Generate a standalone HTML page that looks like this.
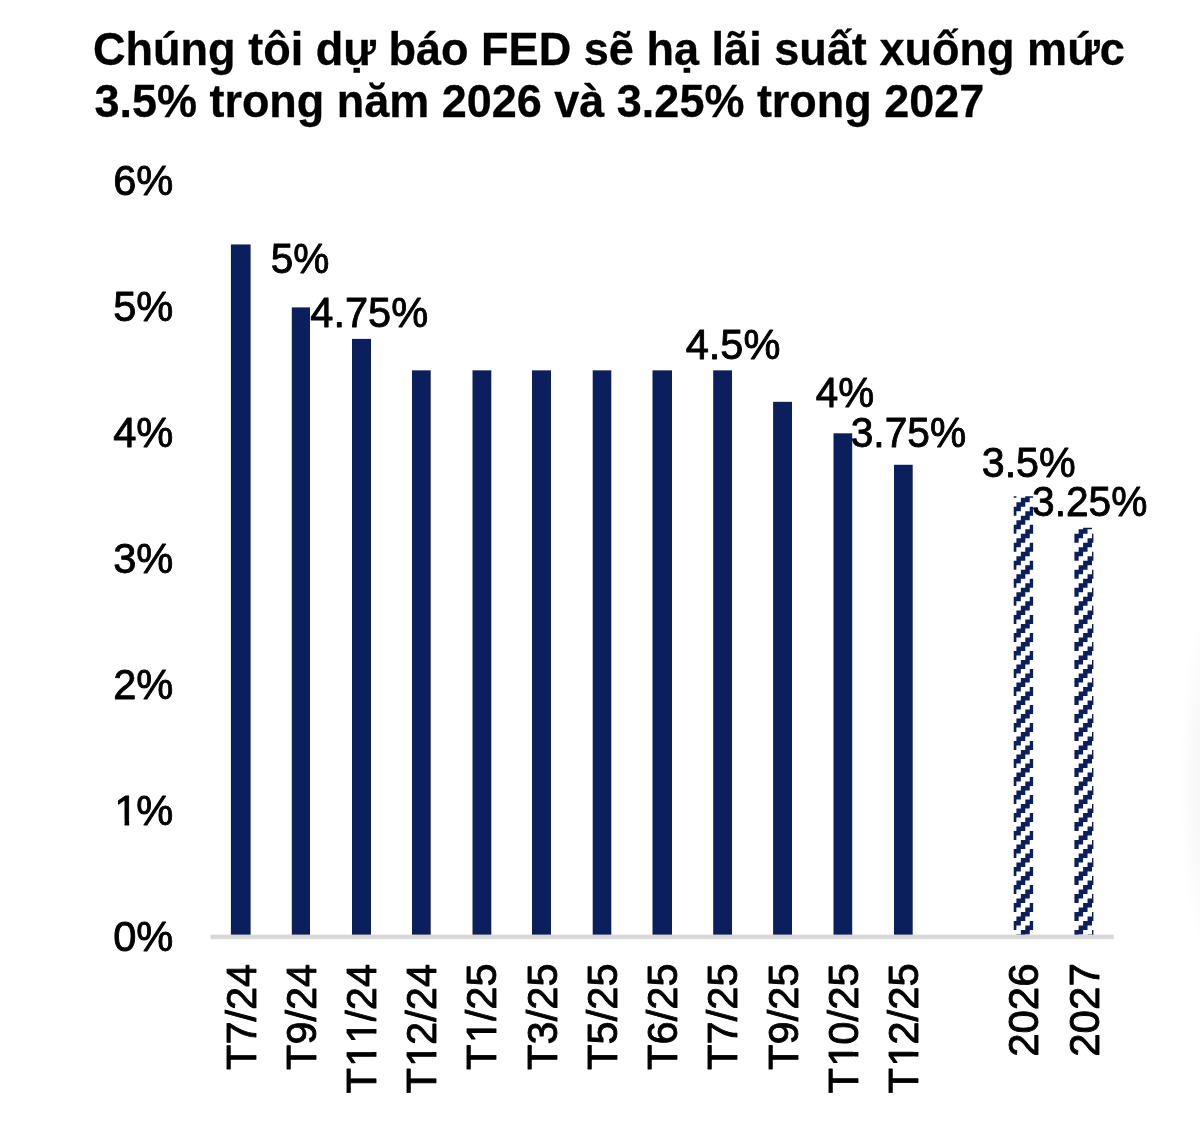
<!DOCTYPE html>
<html lang="vi"><head><meta charset="utf-8"><title>Dự báo lãi suất FED</title>
<style>
html,body{margin:0;padding:0;background:#fff}
body{width:1200px;height:1128px;overflow:hidden;position:relative;font-family:"Liberation Sans",sans-serif}
svg{position:absolute;left:0;top:0;display:block}
text{font-family:"Liberation Sans",sans-serif;fill:#000;stroke:#000;stroke-linejoin:round;font-kerning:none;font-feature-settings:"kern" 0,"liga" 0;white-space:pre}
.t{font-weight:bold;font-size:46.8px;stroke-width:0.3px}
.l{font-size:42.4px;stroke-width:0.9px}
.x{font-size:43.2px}
.y{font-size:42.4px}
</style></head><body>
<svg width="1200" height="1128" viewBox="0 0 1200 1128">
<defs>
<radialGradient id="sh" cx="0.5" cy="0.5" r="0.5">
<stop offset="0" stop-color="#000" stop-opacity="0.034"/><stop offset="0.6" stop-color="#000" stop-opacity="0.018"/><stop offset="1" stop-color="#000" stop-opacity="0"/>
</radialGradient>
</defs>
<rect id="bg" width="1200" height="1128" fill="#fff"/>
<ellipse cx="1204" cy="783" rx="24" ry="168" fill="url(#sh)"/>
<g id="bars">
<rect x="230.90" y="244.45" width="19.70" height="692.45" fill="#0A1F5C"/>
<rect x="291.80" y="307.40" width="18.20" height="629.50" fill="#0A1F5C"/>
<rect x="352.00" y="338.88" width="19.00" height="598.02" fill="#0A1F5C"/>
<rect x="412.00" y="370.35" width="18.70" height="566.55" fill="#0A1F5C"/>
<rect x="472.50" y="370.35" width="18.80" height="566.55" fill="#0A1F5C"/>
<rect x="532.00" y="370.35" width="19.00" height="566.55" fill="#0A1F5C"/>
<rect x="592.70" y="370.35" width="18.60" height="566.55" fill="#0A1F5C"/>
<rect x="652.50" y="370.35" width="19.50" height="566.55" fill="#0A1F5C"/>
<rect x="713.20" y="370.35" width="18.80" height="566.55" fill="#0A1F5C"/>
<rect x="773.10" y="401.82" width="18.90" height="535.08" fill="#0A1F5C"/>
<rect x="833.50" y="433.30" width="18.70" height="503.60" fill="#0A1F5C"/>
<rect x="894.00" y="464.77" width="18.70" height="472.12" fill="#0A1F5C"/>
<clipPath id="c13"><rect x="1013.73" y="496.25" width="19.40" height="440.65"/></clipPath>
<path clip-path="url(#c13)" fill="#0A1F5C" d="M1011.95 470.78 L1016.40 470.78 L1016.40 466.28 L1020.85 466.28 L1020.85 461.78 L1025.29 461.78 L1025.29 457.27 L1029.74 457.27 L1029.74 452.77 L1034.19 452.77 L1034.19 461.78 L1029.74 461.78 L1029.74 466.28 L1025.29 466.28 L1025.29 470.78 L1020.85 470.78 L1020.85 475.28 L1016.40 475.28 L1016.40 479.79 L1011.95 479.79Z M1011.95 488.79 L1016.40 488.79 L1016.40 484.29 L1020.85 484.29 L1020.85 479.79 L1025.29 479.79 L1025.29 475.29 L1029.74 475.29 L1029.74 470.78 L1034.19 470.78 L1034.19 479.79 L1029.74 479.79 L1029.74 484.29 L1025.29 484.29 L1025.29 488.79 L1020.85 488.79 L1020.85 493.30 L1016.40 493.30 L1016.40 497.80 L1011.95 497.80Z M1011.95 506.81 L1016.40 506.81 L1016.40 502.30 L1020.85 502.30 L1020.85 497.80 L1025.29 497.80 L1025.29 493.30 L1029.74 493.30 L1029.74 488.79 L1034.19 488.79 L1034.19 497.80 L1029.74 497.80 L1029.74 502.30 L1025.29 502.30 L1025.29 506.81 L1020.85 506.81 L1020.85 511.31 L1016.40 511.31 L1016.40 515.81 L1011.95 515.81Z M1011.95 524.82 L1016.40 524.82 L1016.40 520.32 L1020.85 520.32 L1020.85 515.81 L1025.29 515.81 L1025.29 511.31 L1029.74 511.31 L1029.74 506.81 L1034.19 506.81 L1034.19 515.81 L1029.74 515.81 L1029.74 520.32 L1025.29 520.32 L1025.29 524.82 L1020.85 524.82 L1020.85 529.32 L1016.40 529.32 L1016.40 533.82 L1011.95 533.82Z M1011.95 542.83 L1016.40 542.83 L1016.40 538.33 L1020.85 538.33 L1020.85 533.82 L1025.29 533.82 L1025.29 529.32 L1029.74 529.32 L1029.74 524.82 L1034.19 524.82 L1034.19 533.82 L1029.74 533.82 L1029.74 538.33 L1025.29 538.33 L1025.29 542.83 L1020.85 542.83 L1020.85 547.33 L1016.40 547.33 L1016.40 551.84 L1011.95 551.84Z M1011.95 560.84 L1016.40 560.84 L1016.40 556.34 L1020.85 556.34 L1020.85 551.84 L1025.29 551.84 L1025.29 547.33 L1029.74 547.33 L1029.74 542.83 L1034.19 542.83 L1034.19 551.84 L1029.74 551.84 L1029.74 556.34 L1025.29 556.34 L1025.29 560.84 L1020.85 560.84 L1020.85 565.35 L1016.40 565.35 L1016.40 569.85 L1011.95 569.85Z M1011.95 578.85 L1016.40 578.85 L1016.40 574.35 L1020.85 574.35 L1020.85 569.85 L1025.29 569.85 L1025.29 565.35 L1029.74 565.35 L1029.74 560.84 L1034.19 560.84 L1034.19 569.85 L1029.74 569.85 L1029.74 574.35 L1025.29 574.35 L1025.29 578.85 L1020.85 578.85 L1020.85 583.36 L1016.40 583.36 L1016.40 587.86 L1011.95 587.86Z M1011.95 596.87 L1016.40 596.87 L1016.40 592.36 L1020.85 592.36 L1020.85 587.86 L1025.29 587.86 L1025.29 583.36 L1029.74 583.36 L1029.74 578.85 L1034.19 578.85 L1034.19 587.86 L1029.74 587.86 L1029.74 592.36 L1025.29 592.36 L1025.29 596.87 L1020.85 596.87 L1020.85 601.37 L1016.40 601.37 L1016.40 605.87 L1011.95 605.87Z M1011.95 614.88 L1016.40 614.88 L1016.40 610.38 L1020.85 610.38 L1020.85 605.87 L1025.29 605.87 L1025.29 601.37 L1029.74 601.37 L1029.74 596.87 L1034.19 596.87 L1034.19 605.87 L1029.74 605.87 L1029.74 610.38 L1025.29 610.38 L1025.29 614.88 L1020.85 614.88 L1020.85 619.38 L1016.40 619.38 L1016.40 623.88 L1011.95 623.88Z M1011.95 632.89 L1016.40 632.89 L1016.40 628.39 L1020.85 628.39 L1020.85 623.88 L1025.29 623.88 L1025.29 619.38 L1029.74 619.38 L1029.74 614.88 L1034.19 614.88 L1034.19 623.88 L1029.74 623.88 L1029.74 628.39 L1025.29 628.39 L1025.29 632.89 L1020.85 632.89 L1020.85 637.39 L1016.40 637.39 L1016.40 641.90 L1011.95 641.90Z M1011.95 650.90 L1016.40 650.90 L1016.40 646.40 L1020.85 646.40 L1020.85 641.90 L1025.29 641.90 L1025.29 637.39 L1029.74 637.39 L1029.74 632.89 L1034.19 632.89 L1034.19 641.90 L1029.74 641.90 L1029.74 646.40 L1025.29 646.40 L1025.29 650.90 L1020.85 650.90 L1020.85 655.40 L1016.40 655.40 L1016.40 659.91 L1011.95 659.91Z M1011.95 668.91 L1016.40 668.91 L1016.40 664.41 L1020.85 664.41 L1020.85 659.91 L1025.29 659.91 L1025.29 655.40 L1029.74 655.40 L1029.74 650.90 L1034.19 650.90 L1034.19 659.91 L1029.74 659.91 L1029.74 664.41 L1025.29 664.41 L1025.29 668.91 L1020.85 668.91 L1020.85 673.42 L1016.40 673.42 L1016.40 677.92 L1011.95 677.92Z M1011.95 686.93 L1016.40 686.93 L1016.40 682.42 L1020.85 682.42 L1020.85 677.92 L1025.29 677.92 L1025.29 673.42 L1029.74 673.42 L1029.74 668.91 L1034.19 668.91 L1034.19 677.92 L1029.74 677.92 L1029.74 682.42 L1025.29 682.42 L1025.29 686.93 L1020.85 686.93 L1020.85 691.43 L1016.40 691.43 L1016.40 695.93 L1011.95 695.93Z M1011.95 704.94 L1016.40 704.94 L1016.40 700.43 L1020.85 700.43 L1020.85 695.93 L1025.29 695.93 L1025.29 691.43 L1029.74 691.43 L1029.74 686.93 L1034.19 686.93 L1034.19 695.93 L1029.74 695.93 L1029.74 700.44 L1025.29 700.44 L1025.29 704.94 L1020.85 704.94 L1020.85 709.44 L1016.40 709.44 L1016.40 713.94 L1011.95 713.94Z M1011.95 722.95 L1016.40 722.95 L1016.40 718.45 L1020.85 718.45 L1020.85 713.94 L1025.29 713.94 L1025.29 709.44 L1029.74 709.44 L1029.74 704.94 L1034.19 704.94 L1034.19 713.94 L1029.74 713.94 L1029.74 718.45 L1025.29 718.45 L1025.29 722.95 L1020.85 722.95 L1020.85 727.45 L1016.40 727.45 L1016.40 731.96 L1011.95 731.96Z M1011.95 740.96 L1016.40 740.96 L1016.40 736.46 L1020.85 736.46 L1020.85 731.96 L1025.29 731.96 L1025.29 727.45 L1029.74 727.45 L1029.74 722.95 L1034.19 722.95 L1034.19 731.96 L1029.74 731.96 L1029.74 736.46 L1025.29 736.46 L1025.29 740.96 L1020.85 740.96 L1020.85 745.47 L1016.40 745.47 L1016.40 749.97 L1011.95 749.97Z M1011.95 758.97 L1016.40 758.97 L1016.40 754.47 L1020.85 754.47 L1020.85 749.97 L1025.29 749.97 L1025.29 745.47 L1029.74 745.47 L1029.74 740.96 L1034.19 740.96 L1034.19 749.97 L1029.74 749.97 L1029.74 754.47 L1025.29 754.47 L1025.29 758.97 L1020.85 758.97 L1020.85 763.48 L1016.40 763.48 L1016.40 767.98 L1011.95 767.98Z M1011.95 776.99 L1016.40 776.99 L1016.40 772.48 L1020.85 772.48 L1020.85 767.98 L1025.29 767.98 L1025.29 763.48 L1029.74 763.48 L1029.74 758.97 L1034.19 758.97 L1034.19 767.98 L1029.74 767.98 L1029.74 772.48 L1025.29 772.48 L1025.29 776.99 L1020.85 776.99 L1020.85 781.49 L1016.40 781.49 L1016.40 785.99 L1011.95 785.99Z M1011.95 795.00 L1016.40 795.00 L1016.40 790.50 L1020.85 790.50 L1020.85 785.99 L1025.29 785.99 L1025.29 781.49 L1029.74 781.49 L1029.74 776.99 L1034.19 776.99 L1034.19 785.99 L1029.74 785.99 L1029.74 790.50 L1025.29 790.50 L1025.29 795.00 L1020.85 795.00 L1020.85 799.50 L1016.40 799.50 L1016.40 804.00 L1011.95 804.00Z M1011.95 813.01 L1016.40 813.01 L1016.40 808.51 L1020.85 808.51 L1020.85 804.00 L1025.29 804.00 L1025.29 799.50 L1029.74 799.50 L1029.74 795.00 L1034.19 795.00 L1034.19 804.00 L1029.74 804.00 L1029.74 808.51 L1025.29 808.51 L1025.29 813.01 L1020.85 813.01 L1020.85 817.51 L1016.40 817.51 L1016.40 822.02 L1011.95 822.02Z M1011.95 831.02 L1016.40 831.02 L1016.40 826.52 L1020.85 826.52 L1020.85 822.02 L1025.29 822.02 L1025.29 817.51 L1029.74 817.51 L1029.74 813.01 L1034.19 813.01 L1034.19 822.02 L1029.74 822.02 L1029.74 826.52 L1025.29 826.52 L1025.29 831.02 L1020.85 831.02 L1020.85 835.52 L1016.40 835.52 L1016.40 840.03 L1011.95 840.03Z M1011.95 849.03 L1016.40 849.03 L1016.40 844.53 L1020.85 844.53 L1020.85 840.03 L1025.29 840.03 L1025.29 835.53 L1029.74 835.53 L1029.74 831.02 L1034.19 831.02 L1034.19 840.03 L1029.74 840.03 L1029.74 844.53 L1025.29 844.53 L1025.29 849.03 L1020.85 849.03 L1020.85 853.54 L1016.40 853.54 L1016.40 858.04 L1011.95 858.04Z M1011.95 867.05 L1016.40 867.05 L1016.40 862.54 L1020.85 862.54 L1020.85 858.04 L1025.29 858.04 L1025.29 853.54 L1029.74 853.54 L1029.74 849.03 L1034.19 849.03 L1034.19 858.04 L1029.74 858.04 L1029.74 862.54 L1025.29 862.54 L1025.29 867.05 L1020.85 867.05 L1020.85 871.55 L1016.40 871.55 L1016.40 876.05 L1011.95 876.05Z M1011.95 885.06 L1016.40 885.06 L1016.40 880.56 L1020.85 880.56 L1020.85 876.05 L1025.29 876.05 L1025.29 871.55 L1029.74 871.55 L1029.74 867.05 L1034.19 867.05 L1034.19 876.05 L1029.74 876.05 L1029.74 880.55 L1025.29 880.55 L1025.29 885.06 L1020.85 885.06 L1020.85 889.56 L1016.40 889.56 L1016.40 894.06 L1011.95 894.06Z M1011.95 903.07 L1016.40 903.07 L1016.40 898.57 L1020.85 898.57 L1020.85 894.06 L1025.29 894.06 L1025.29 889.56 L1029.74 889.56 L1029.74 885.06 L1034.19 885.06 L1034.19 894.06 L1029.74 894.06 L1029.74 898.57 L1025.29 898.57 L1025.29 903.07 L1020.85 903.07 L1020.85 907.57 L1016.40 907.57 L1016.40 912.08 L1011.95 912.08Z M1011.95 921.08 L1016.40 921.08 L1016.40 916.58 L1020.85 916.58 L1020.85 912.08 L1025.29 912.08 L1025.29 907.57 L1029.74 907.57 L1029.74 903.07 L1034.19 903.07 L1034.19 912.08 L1029.74 912.08 L1029.74 916.58 L1025.29 916.58 L1025.29 921.08 L1020.85 921.08 L1020.85 925.58 L1016.40 925.58 L1016.40 930.09 L1011.95 930.09Z M1011.95 939.09 L1016.40 939.09 L1016.40 934.59 L1020.85 934.59 L1020.85 930.09 L1025.29 930.09 L1025.29 925.59 L1029.74 925.59 L1029.74 921.08 L1034.19 921.08 L1034.19 930.09 L1029.74 930.09 L1029.74 934.59 L1025.29 934.59 L1025.29 939.09 L1020.85 939.09 L1020.85 943.60 L1016.40 943.60 L1016.40 948.10 L1011.95 948.10Z M1011.95 957.11 L1016.40 957.11 L1016.40 952.60 L1020.85 952.60 L1020.85 948.10 L1025.29 948.10 L1025.29 943.60 L1029.74 943.60 L1029.74 939.09 L1034.19 939.09 L1034.19 948.10 L1029.74 948.10 L1029.74 952.60 L1025.29 952.60 L1025.29 957.11 L1020.85 957.11 L1020.85 961.61 L1016.40 961.61 L1016.40 966.11 L1011.95 966.11Z M1011.95 975.12 L1016.40 975.12 L1016.40 970.62 L1020.85 970.62 L1020.85 966.11 L1025.29 966.11 L1025.29 961.61 L1029.74 961.61 L1029.74 957.11 L1034.19 957.11 L1034.19 966.11 L1029.74 966.11 L1029.74 970.62 L1025.29 970.62 L1025.29 975.12 L1020.85 975.12 L1020.85 979.62 L1016.40 979.62 L1016.40 984.12 L1011.95 984.12Z M1011.95 993.13 L1016.40 993.13 L1016.40 988.63 L1020.85 988.63 L1020.85 984.12 L1025.29 984.12 L1025.29 979.62 L1029.74 979.62 L1029.74 975.12 L1034.19 975.12 L1034.19 984.12 L1029.74 984.12 L1029.74 988.63 L1025.29 988.63 L1025.29 993.13 L1020.85 993.13 L1020.85 997.63 L1016.40 997.63 L1016.40 1002.14 L1011.95 1002.14Z"/>
<clipPath id="c14"><rect x="1074.25" y="527.72" width="19.15" height="409.18"/></clipPath>
<path clip-path="url(#c14)" fill="#0A1F5C" d="M1074.21 497.80 L1078.66 497.80 L1078.66 493.30 L1083.10 493.30 L1083.11 488.79 L1087.55 488.79 L1087.55 484.29 L1092.00 484.29 L1092.00 479.79 L1096.45 479.79 L1096.45 488.79 L1092.00 488.79 L1092.00 493.30 L1087.55 493.30 L1087.55 497.80 L1083.11 497.80 L1083.10 502.30 L1078.66 502.30 L1078.66 506.81 L1074.21 506.81Z M1074.21 515.81 L1078.66 515.81 L1078.66 511.31 L1083.10 511.31 L1083.11 506.81 L1087.55 506.81 L1087.55 502.30 L1092.00 502.30 L1092.00 497.80 L1096.45 497.80 L1096.45 506.81 L1092.00 506.81 L1092.00 511.31 L1087.55 511.31 L1087.55 515.81 L1083.11 515.81 L1083.10 520.32 L1078.66 520.32 L1078.66 524.82 L1074.21 524.82Z M1074.21 533.82 L1078.66 533.82 L1078.66 529.32 L1083.10 529.32 L1083.11 524.82 L1087.55 524.82 L1087.55 520.32 L1092.00 520.32 L1092.00 515.81 L1096.45 515.81 L1096.45 524.82 L1092.00 524.82 L1092.00 529.32 L1087.55 529.32 L1087.55 533.82 L1083.11 533.82 L1083.10 538.33 L1078.66 538.33 L1078.66 542.83 L1074.21 542.83Z M1074.21 551.84 L1078.66 551.84 L1078.66 547.33 L1083.10 547.33 L1083.11 542.83 L1087.55 542.83 L1087.55 538.33 L1092.00 538.33 L1092.00 533.82 L1096.45 533.82 L1096.45 542.83 L1092.00 542.83 L1092.00 547.33 L1087.55 547.33 L1087.55 551.84 L1083.11 551.84 L1083.10 556.34 L1078.66 556.34 L1078.66 560.84 L1074.21 560.84Z M1074.21 569.85 L1078.66 569.85 L1078.66 565.35 L1083.10 565.35 L1083.11 560.84 L1087.55 560.84 L1087.55 556.34 L1092.00 556.34 L1092.00 551.84 L1096.45 551.84 L1096.45 560.84 L1092.00 560.84 L1092.00 565.35 L1087.55 565.35 L1087.55 569.85 L1083.11 569.85 L1083.10 574.35 L1078.66 574.35 L1078.66 578.85 L1074.21 578.85Z M1074.21 587.86 L1078.66 587.86 L1078.66 583.36 L1083.10 583.36 L1083.11 578.85 L1087.55 578.85 L1087.55 574.35 L1092.00 574.35 L1092.00 569.85 L1096.45 569.85 L1096.45 578.85 L1092.00 578.85 L1092.00 583.36 L1087.55 583.36 L1087.55 587.86 L1083.11 587.86 L1083.10 592.36 L1078.66 592.36 L1078.66 596.87 L1074.21 596.87Z M1074.21 605.87 L1078.66 605.87 L1078.66 601.37 L1083.10 601.37 L1083.11 596.87 L1087.55 596.87 L1087.55 592.36 L1092.00 592.36 L1092.00 587.86 L1096.45 587.86 L1096.45 596.87 L1092.00 596.87 L1092.00 601.37 L1087.55 601.37 L1087.55 605.87 L1083.11 605.87 L1083.10 610.38 L1078.66 610.38 L1078.66 614.88 L1074.21 614.88Z M1074.21 623.88 L1078.66 623.88 L1078.66 619.38 L1083.10 619.38 L1083.11 614.88 L1087.55 614.88 L1087.55 610.38 L1092.00 610.38 L1092.00 605.87 L1096.45 605.87 L1096.45 614.88 L1092.00 614.88 L1092.00 619.38 L1087.55 619.38 L1087.55 623.88 L1083.11 623.88 L1083.10 628.39 L1078.66 628.39 L1078.66 632.89 L1074.21 632.89Z M1074.21 641.90 L1078.66 641.90 L1078.66 637.39 L1083.10 637.39 L1083.11 632.89 L1087.55 632.89 L1087.55 628.39 L1092.00 628.39 L1092.00 623.88 L1096.45 623.88 L1096.45 632.89 L1092.00 632.89 L1092.00 637.39 L1087.55 637.39 L1087.55 641.90 L1083.11 641.90 L1083.10 646.40 L1078.66 646.40 L1078.66 650.90 L1074.21 650.90Z M1074.21 659.91 L1078.66 659.91 L1078.66 655.40 L1083.10 655.40 L1083.11 650.90 L1087.55 650.90 L1087.55 646.40 L1092.00 646.40 L1092.00 641.90 L1096.45 641.90 L1096.45 650.90 L1092.00 650.90 L1092.00 655.40 L1087.55 655.40 L1087.55 659.91 L1083.11 659.91 L1083.10 664.41 L1078.66 664.41 L1078.66 668.91 L1074.21 668.91Z M1074.21 677.92 L1078.66 677.92 L1078.66 673.42 L1083.10 673.42 L1083.11 668.91 L1087.55 668.91 L1087.55 664.41 L1092.00 664.41 L1092.00 659.91 L1096.45 659.91 L1096.45 668.91 L1092.00 668.91 L1092.00 673.42 L1087.55 673.42 L1087.55 677.92 L1083.11 677.92 L1083.10 682.42 L1078.66 682.42 L1078.66 686.93 L1074.21 686.93Z M1074.21 695.93 L1078.66 695.93 L1078.66 691.43 L1083.10 691.43 L1083.11 686.93 L1087.55 686.93 L1087.55 682.42 L1092.00 682.42 L1092.00 677.92 L1096.45 677.92 L1096.45 686.93 L1092.00 686.93 L1092.00 691.43 L1087.55 691.43 L1087.55 695.93 L1083.11 695.93 L1083.10 700.44 L1078.66 700.44 L1078.66 704.94 L1074.21 704.94Z M1074.21 713.94 L1078.66 713.94 L1078.66 709.44 L1083.10 709.44 L1083.11 704.94 L1087.55 704.94 L1087.55 700.43 L1092.00 700.43 L1092.00 695.93 L1096.45 695.93 L1096.45 704.94 L1092.00 704.94 L1092.00 709.44 L1087.55 709.44 L1087.55 713.94 L1083.11 713.94 L1083.10 718.45 L1078.66 718.45 L1078.66 722.95 L1074.21 722.95Z M1074.21 731.96 L1078.66 731.96 L1078.66 727.45 L1083.10 727.45 L1083.11 722.95 L1087.55 722.95 L1087.55 718.45 L1092.00 718.45 L1092.00 713.94 L1096.45 713.94 L1096.45 722.95 L1092.00 722.95 L1092.00 727.45 L1087.55 727.45 L1087.55 731.96 L1083.11 731.96 L1083.10 736.46 L1078.66 736.46 L1078.66 740.96 L1074.21 740.96Z M1074.21 749.97 L1078.66 749.97 L1078.66 745.47 L1083.10 745.47 L1083.11 740.96 L1087.55 740.96 L1087.55 736.46 L1092.00 736.46 L1092.00 731.96 L1096.45 731.96 L1096.45 740.96 L1092.00 740.96 L1092.00 745.47 L1087.55 745.47 L1087.55 749.97 L1083.11 749.97 L1083.10 754.47 L1078.66 754.47 L1078.66 758.97 L1074.21 758.97Z M1074.21 767.98 L1078.66 767.98 L1078.66 763.48 L1083.10 763.48 L1083.11 758.97 L1087.55 758.97 L1087.55 754.47 L1092.00 754.47 L1092.00 749.97 L1096.45 749.97 L1096.45 758.97 L1092.00 758.97 L1092.00 763.48 L1087.55 763.48 L1087.55 767.98 L1083.11 767.98 L1083.10 772.48 L1078.66 772.48 L1078.66 776.99 L1074.21 776.99Z M1074.21 785.99 L1078.66 785.99 L1078.66 781.49 L1083.10 781.49 L1083.11 776.99 L1087.55 776.99 L1087.55 772.48 L1092.00 772.48 L1092.00 767.98 L1096.45 767.98 L1096.45 776.99 L1092.00 776.99 L1092.00 781.49 L1087.55 781.49 L1087.55 785.99 L1083.11 785.99 L1083.10 790.50 L1078.66 790.50 L1078.66 795.00 L1074.21 795.00Z M1074.21 804.00 L1078.66 804.00 L1078.66 799.50 L1083.10 799.50 L1083.11 795.00 L1087.55 795.00 L1087.55 790.50 L1092.00 790.50 L1092.00 785.99 L1096.45 785.99 L1096.45 795.00 L1092.00 795.00 L1092.00 799.50 L1087.55 799.50 L1087.55 804.00 L1083.11 804.00 L1083.10 808.51 L1078.66 808.51 L1078.66 813.01 L1074.21 813.01Z M1074.21 822.02 L1078.66 822.02 L1078.66 817.51 L1083.10 817.51 L1083.11 813.01 L1087.55 813.01 L1087.55 808.51 L1092.00 808.51 L1092.00 804.00 L1096.45 804.00 L1096.45 813.01 L1092.00 813.01 L1092.00 817.51 L1087.55 817.51 L1087.55 822.02 L1083.11 822.02 L1083.10 826.52 L1078.66 826.52 L1078.66 831.02 L1074.21 831.02Z M1074.21 840.03 L1078.66 840.03 L1078.66 835.53 L1083.10 835.53 L1083.11 831.02 L1087.55 831.02 L1087.55 826.52 L1092.00 826.52 L1092.00 822.02 L1096.45 822.02 L1096.45 831.02 L1092.00 831.02 L1092.00 835.52 L1087.55 835.52 L1087.55 840.03 L1083.11 840.03 L1083.10 844.53 L1078.66 844.53 L1078.66 849.03 L1074.21 849.03Z M1074.21 858.04 L1078.66 858.04 L1078.66 853.54 L1083.10 853.54 L1083.11 849.03 L1087.55 849.03 L1087.55 844.53 L1092.00 844.53 L1092.00 840.03 L1096.45 840.03 L1096.45 849.03 L1092.00 849.03 L1092.00 853.54 L1087.55 853.54 L1087.55 858.04 L1083.11 858.04 L1083.10 862.54 L1078.66 862.54 L1078.66 867.05 L1074.21 867.05Z M1074.21 876.05 L1078.66 876.05 L1078.66 871.55 L1083.10 871.55 L1083.11 867.05 L1087.55 867.05 L1087.55 862.54 L1092.00 862.54 L1092.00 858.04 L1096.45 858.04 L1096.45 867.05 L1092.00 867.05 L1092.00 871.55 L1087.55 871.55 L1087.55 876.05 L1083.11 876.05 L1083.10 880.55 L1078.66 880.55 L1078.66 885.06 L1074.21 885.06Z M1074.21 894.06 L1078.66 894.06 L1078.66 889.56 L1083.10 889.56 L1083.11 885.06 L1087.55 885.06 L1087.55 880.56 L1092.00 880.56 L1092.00 876.05 L1096.45 876.05 L1096.45 885.06 L1092.00 885.06 L1092.00 889.56 L1087.55 889.56 L1087.55 894.06 L1083.11 894.06 L1083.10 898.57 L1078.66 898.57 L1078.66 903.07 L1074.21 903.07Z M1074.21 912.08 L1078.66 912.08 L1078.66 907.57 L1083.10 907.57 L1083.11 903.07 L1087.55 903.07 L1087.55 898.57 L1092.00 898.57 L1092.00 894.06 L1096.45 894.06 L1096.45 903.07 L1092.00 903.07 L1092.00 907.57 L1087.55 907.57 L1087.55 912.08 L1083.11 912.08 L1083.10 916.58 L1078.66 916.58 L1078.66 921.08 L1074.21 921.08Z M1074.21 930.09 L1078.66 930.09 L1078.66 925.59 L1083.10 925.59 L1083.11 921.08 L1087.55 921.08 L1087.55 916.58 L1092.00 916.58 L1092.00 912.08 L1096.45 912.08 L1096.45 921.08 L1092.00 921.08 L1092.00 925.58 L1087.55 925.58 L1087.55 930.09 L1083.11 930.09 L1083.10 934.59 L1078.66 934.59 L1078.66 939.09 L1074.21 939.09Z M1074.21 948.10 L1078.66 948.10 L1078.66 943.60 L1083.10 943.60 L1083.11 939.09 L1087.55 939.09 L1087.55 934.59 L1092.00 934.59 L1092.00 930.09 L1096.45 930.09 L1096.45 939.09 L1092.00 939.09 L1092.00 943.60 L1087.55 943.60 L1087.55 948.10 L1083.11 948.10 L1083.10 952.60 L1078.66 952.60 L1078.66 957.11 L1074.21 957.11Z M1074.21 966.11 L1078.66 966.11 L1078.66 961.61 L1083.10 961.61 L1083.11 957.11 L1087.55 957.11 L1087.55 952.60 L1092.00 952.60 L1092.00 948.10 L1096.45 948.10 L1096.45 957.11 L1092.00 957.11 L1092.00 961.61 L1087.55 961.61 L1087.55 966.11 L1083.11 966.11 L1083.10 970.62 L1078.66 970.62 L1078.66 975.12 L1074.21 975.12Z M1074.21 984.12 L1078.66 984.12 L1078.66 979.62 L1083.10 979.62 L1083.11 975.12 L1087.55 975.12 L1087.55 970.62 L1092.00 970.62 L1092.00 966.11 L1096.45 966.11 L1096.45 975.12 L1092.00 975.12 L1092.00 979.62 L1087.55 979.62 L1087.55 984.12 L1083.11 984.12 L1083.10 988.63 L1078.66 988.63 L1078.66 993.13 L1074.21 993.13Z"/>
</g>
<rect id="axis" x="210.5" y="934.6" width="903.25" height="4.6" fill="#d9d9d9"/>
<g id="labels">
<text id="t1" class="t" transform="translate(92.95 65.10) scale(0.9634 1)">Chúng tôi dự báo FED sẽ hạ lãi suất xuống mức</text>
<text id="t2" class="t" transform="translate(94.40 117.30) scale(0.9613 1)">3.5% trong năm 2026 và 3.25% trong 2027</text>
<text id="y0" class="l y" x="0.00 23.57" y="0" transform="translate(113.20 950.70) scale(0.9820 1)">0%</text>
<clipPath id="ky1"><path clip-rule="evenodd" d="M-50 -80H400V40H-50Z M3.50 -4.45 H11.61 V1.70 H3.50 Z M16.24 -4.45 H24.06 V1.70 H16.24 Z"/></clipPath><text id="y1" class="l y" x="1.38 23.57" y="0" clip-path="url(#ky1)" transform="translate(113.20 824.80) scale(0.9820 1)">1%</text>
<text id="y2" class="l y" x="0.00 23.57" y="0" transform="translate(113.20 698.90) scale(0.9820 1)">2%</text>
<text id="y3" class="l y" x="0.00 23.57" y="0" transform="translate(113.20 573.00) scale(0.9820 1)">3%</text>
<text id="y4" class="l y" x="0.00 23.57" y="0" transform="translate(113.20 447.10) scale(0.9820 1)">4%</text>
<text id="y5" class="l y" x="0.00 23.57" y="0" transform="translate(113.20 321.20) scale(0.9820 1)">5%</text>
<text id="y6" class="l y" x="0.00 23.57" y="0" transform="translate(113.20 195.30) scale(0.9820 1)">6%</text>
<text id="x0" class="l x" x="0.00 26.40 50.41 62.42 86.44" y="0" transform="translate(255.61 1069.90) rotate(-90) scale(0.9593 1)">T7/24</text>
<text id="x1" class="l x" x="0.00 26.40 50.41 62.42 86.44" y="0" transform="translate(315.82 1069.90) rotate(-90) scale(0.9593 1)">T9/24</text>
<clipPath id="kx2"><path clip-rule="evenodd" d="M-50 -80H400V40H-50Z M29.96 -4.54 H38.24 V1.73 H29.96 Z M42.94 -4.54 H50.91 V1.73 H42.94 Z M53.98 -4.54 H62.25 V1.73 H53.98 Z M66.96 -4.54 H74.93 V1.73 H66.96 Z"/></clipPath><text id="x2" class="l x" x="0.00 27.80 51.82 74.43 86.44 110.46" y="0" clip-path="url(#kx2)" transform="translate(376.04 1093.51) rotate(-90) scale(0.9640 1)">T11/24</text>
<clipPath id="kx3"><path clip-rule="evenodd" d="M-50 -80H400V40H-50Z M29.96 -4.54 H38.24 V1.73 H29.96 Z M42.94 -4.54 H50.91 V1.73 H42.94 Z"/></clipPath><text id="x3" class="l x" x="0.00 27.80 50.41 74.43 86.44 110.46" y="0" clip-path="url(#kx3)" transform="translate(436.26 1093.51) rotate(-90) scale(0.9640 1)">T12/24</text>
<clipPath id="kx4"><path clip-rule="evenodd" d="M-50 -80H400V40H-50Z M29.96 -4.54 H38.24 V1.73 H29.96 Z M42.94 -4.54 H50.91 V1.73 H42.94 Z"/></clipPath><text id="x4" class="l x" x="0.00 27.80 50.41 62.42 86.44" y="0" clip-path="url(#kx4)" transform="translate(496.48 1069.91) rotate(-90) scale(0.9640 1)">T1/25</text>
<text id="x5" class="l x" x="0.00 26.40 50.41 62.42 86.44" y="0" transform="translate(556.69 1069.91) rotate(-90) scale(0.9640 1)">T3/25</text>
<text id="x6" class="l x" x="0.00 26.40 50.41 62.42 86.44" y="0" transform="translate(616.91 1069.91) rotate(-90) scale(0.9640 1)">T5/25</text>
<text id="x7" class="l x" x="0.00 26.40 50.41 62.42 86.44" y="0" transform="translate(677.12 1069.91) rotate(-90) scale(0.9640 1)">T6/25</text>
<text id="x8" class="l x" x="0.00 26.40 50.41 62.42 86.44" y="0" transform="translate(737.34 1069.91) rotate(-90) scale(0.9640 1)">T7/25</text>
<text id="x9" class="l x" x="0.00 26.40 50.41 62.42 86.44" y="0" transform="translate(797.56 1069.91) rotate(-90) scale(0.9640 1)">T9/25</text>
<clipPath id="kx10"><path clip-rule="evenodd" d="M-50 -80H400V40H-50Z M29.96 -4.54 H38.24 V1.73 H29.96 Z M42.94 -4.54 H50.91 V1.73 H42.94 Z"/></clipPath><text id="x10" class="l x" x="0.00 27.80 50.41 74.43 86.44 110.46" y="0" clip-path="url(#kx10)" transform="translate(857.77 1093.51) rotate(-90) scale(0.9678 1)">T10/25</text>
<clipPath id="kx11"><path clip-rule="evenodd" d="M-50 -80H400V40H-50Z M29.96 -4.54 H38.24 V1.73 H29.96 Z M42.94 -4.54 H50.91 V1.73 H42.94 Z"/></clipPath><text id="x11" class="l x" x="0.00 27.80 50.41 74.43 86.44 110.46" y="0" clip-path="url(#kx11)" transform="translate(917.99 1093.51) rotate(-90) scale(0.9678 1)">T12/25</text>
<text id="x13" class="l x" x="0.00 24.02 48.04 72.06" y="0" transform="translate(1038.43 1056.87) rotate(-90) scale(0.9730 1)">2026</text>
<text id="x14" class="l x" x="0.00 24.02 48.04 72.06" y="0" transform="translate(1098.64 1056.87) rotate(-90) scale(0.9757 1)">2027</text>
<text id="d0" class="l" x="0.00 23.57" y="0" transform="translate(270.75 272.60) scale(0.9574 1)">5%</text>
<text id="d1" class="l" x="0.00 23.57 35.36 58.94 82.51" y="0" transform="translate(310.28 326.90) scale(0.9807 1)">4.75%</text>
<text id="d2" class="l" x="0.00 23.57 35.36 58.94" y="0" transform="translate(685.73 359.00) scale(0.9800 1)">4.5%</text>
<text id="d3" class="l" x="0.00 23.57" y="0" transform="translate(815.75 406.50) scale(0.9531 1)">4%</text>
<text id="d4" class="l" x="0.00 23.57 35.36 58.94 82.51" y="0" transform="translate(850.75 447.00) scale(0.9594 1)">3.75%</text>
<text id="d5" class="l" x="0.00 23.57 35.36 58.94" y="0" transform="translate(981.73 476.60) scale(0.9723 1)">3.5%</text>
<text id="d6" class="l" x="0.00 23.57 35.36 58.94 82.51" y="0" transform="translate(1032.05 516.10) scale(0.9594 1)">3.25%</text>
</g>
</svg></body></html>
